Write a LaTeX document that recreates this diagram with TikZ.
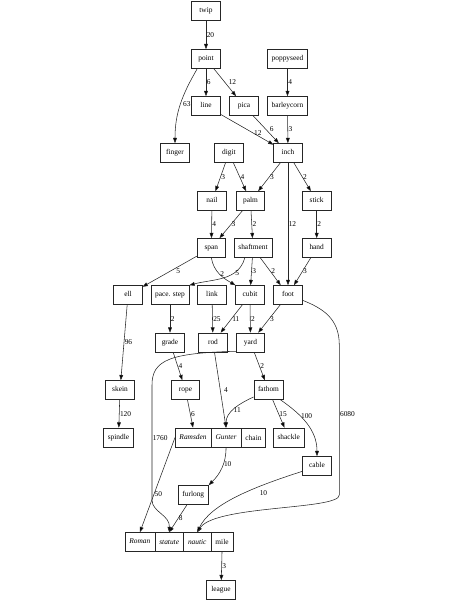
\documentclass[tikz,border=0pt]{standalone}
\usepackage{fontspec}
\setmainfont{Liberation Serif}
\usetikzlibrary{arrows.meta}
\usetikzlibrary{shapes.multipart}

\begin{document}
\begin{tikzpicture}[
    x=1pt,y=1pt,line width=0.55pt,draw=black!85,
    >={Triangle[length=5.3pt,width=3.8pt]},
    basic/.style={draw,rectangle,font=\fontsize{7.4}{8}\selectfont,text height=5.2pt,text depth=1.6pt,inner xsep=4.2pt,inner ysep=6.1pt,minimum width=28.5pt,minimum height=19pt},
    record/.style={basic,rectangle split,rectangle split horizontal,rectangle split parts=#1},
    lbl/.style={font=\fontsize{7.4}{8}\selectfont,anchor=west,inner sep=0.5pt},
]
\useasboundingbox (0,0) rectangle (458,-610);
% units
\node[basic] (twip) at (206,-11) {twip};
\node[basic] (point) at (206,-59) {point};
\node[basic] (poppyseed) at (287.5,-59) {poppyseed};
\node[basic] (line) at (206,-106) {line};
\node[basic] (pica) at (244,-106) {pica};
\node[basic] (barleycorn) at (287.5,-106) {barleycorn};
\node[basic] (finger) at (175,-153) {finger};
\node[basic] (digit) at (229,-153) {digit};
\node[basic] (inch) at (288,-153) {inch};
\node[basic] (nail) at (212,-201) {nail};
\node[basic] (palm) at (250.5,-201) {palm};
\node[basic] (stick) at (316.7,-201) {stick};
\node[basic] (span) at (211.3,-248) {span};
\node[basic] (shaftment) at (253,-248) {shaftment};
\node[basic] (hand) at (316.7,-248) {hand};
\node[basic] (ell) at (128,-295) {ell};
\node[basic] (pace) at (170,-295) {pace. step};
\node[basic] (link) at (212,-295) {link};
\node[basic] (cubit) at (250,-295) {cubit};
\node[basic] (foot) at (288,-295) {foot};
\node[basic] (grade) at (170,-342.5) {grade};
\node[basic] (rod) at (213,-342.5) {rod};
\node[basic] (yard) at (250.5,-342.5) {yard};
\node[basic] (skein) at (120,-390) {skein};
\node[basic] (rope) at (185.5,-390) {rope};
\node[basic] (fathom) at (268.5,-390) {fathom};
\node[basic] (spindle) at (118.5,-437.5) {spindle};
\node[record=3] (chain) at (220.5,-437.5) {\textit{Ramsden}\nodepart{two}\textit{Gunter}\nodepart{three}chain};
\node[basic] (shackle) at (288.7,-437.5) {shackle};
\node[basic] (cable) at (317,-466) {cable};
\node[basic] (furlong) at (193.3,-495) {furlong};
\node[record=4] (mile) at (179,-542) {\textit{Roman}\nodepart{two}\textit{statute}\nodepart{three}\textit{nautic}\nodepart{four}mile};
\node[basic] (league) at (221,-590) {league};
% conversions
\path[draw,->] (twip) -- node[lbl]{20} (point);
\path[draw,->] (point) -- node[lbl]{6} (line);
\path[draw,->] (point) -- node[lbl,xshift=3pt]{12} (pica);
\path[draw,->] (point.-132) to[out=-120,in=90] node[lbl,xshift=2pt]{63} (finger);
\path[draw,->] (poppyseed) -- node[lbl]{4} (barleycorn);
\path[draw,->] (line) -- node[lbl,pos=.62]{12} (inch);
\path[draw,->] (pica) -- node[lbl,xshift=3pt]{6} (inch);
\path[draw,->] (barleycorn) -- node[lbl]{3} (inch);
\path[draw,->] (digit) -- node[lbl]{3} (nail);
\path[draw,->] (digit) -- node[lbl]{4} (palm);
\path[draw,->] (inch) -- node[lbl]{3} (palm);
\path[draw,->] (inch) -- node[lbl]{2} (stick);
\path[draw,->] (inch) -- node[lbl]{12} (foot);
\path[draw,->] (stick) -- node[lbl]{2} (hand);
\path[draw,->] (nail) -- node[lbl]{4} (span);
\path[draw,->] (palm) -- node[lbl]{3} (span);
\path[draw,->] (palm) -- node[lbl]{2} (shaftment);
\path[draw,->] (span) -- node[lbl,xshift=6pt]{5} (ell);
\path[draw,->] (span.south) to[out=-80,in=150] node[lbl]{2} (cubit.north west);
\path[draw,->] (shaftment.-130) to[out=-105,in=15] node[lbl,pos=.3]{5} (pace.north east);
\path[draw,->] (shaftment) -- node[lbl]{3} (cubit);
\path[draw,->] (shaftment) -- node[lbl]{2} (foot);
\path[draw,->] (hand) -- node[lbl]{3} (foot);
\path[draw,->] (ell) -- node[lbl]{96} (skein);
\path[draw,->] (pace) -- node[lbl]{2} (grade);
\path[draw,->] (link) -- node[lbl]{25} (rod);
\path[draw,->] (cubit) -- node[lbl]{11} (rod);
\path[draw,->] (cubit) -- node[lbl]{2} (yard);
\path[draw,->] (foot) -- node[lbl]{3} (yard);
\path[draw,->] (grade) -- node[lbl]{4} (rope);
\path[draw,->] (rod) -- node[lbl,xshift=3pt]{4} (chain.two north);
\path[draw,->] (yard) -- node[lbl]{2} (fathom);
\path[draw,->] ([yshift=1pt]yard.south west) .. controls (170,-353) and (152,-360) .. (152,-385)
    -- node[lbl,pos=.46]{1760} (152,-500) .. controls (152,-512) and (170,-515) .. (mile.two north);
\path[draw,->] (fathom.205) to[out=205,in=90] node[lbl,pos=.55]{11} (chain.two north);
\path[draw,->] (fathom) -- node[lbl]{15} (shackle);
\path[draw,->] ([xshift=-3pt]fathom.south east) to[out=-35,in=90] node[lbl,pos=.35]{100} (cable.north);
\path[draw,->] (foot.-20) .. controls (322,-308) and (339.3,-318) .. (339.3,-345)
    -- node[lbl,pos=.46]{6080} (339.3,-495) .. controls (339.3,-510) and (215,-505) .. (mile.three north);
\path[draw,->] (skein) -- node[lbl]{120} (spindle);
\path[draw,->] (rope) -- node[lbl]{6} (chain.one north);
\path[draw,->] (chain.two south) to[out=-90,in=45] node[lbl,pos=.4]{10} (furlong.north east);
\path[draw,->] (chain.west) -- node[lbl,pos=.6]{50} (mile.one north);
\path[draw,->] (furlong) -- node[lbl]{8} (mile.two north);
\path[draw,->] (cable.200) .. controls (250,-488) and (210,-505) .. node[lbl,pos=.3,anchor=north west,yshift=-3pt]{10} (mile.three north);
\path[draw,->] (mile.four south) -- node[lbl]{3} (league);
\end{tikzpicture}
\end{document}
